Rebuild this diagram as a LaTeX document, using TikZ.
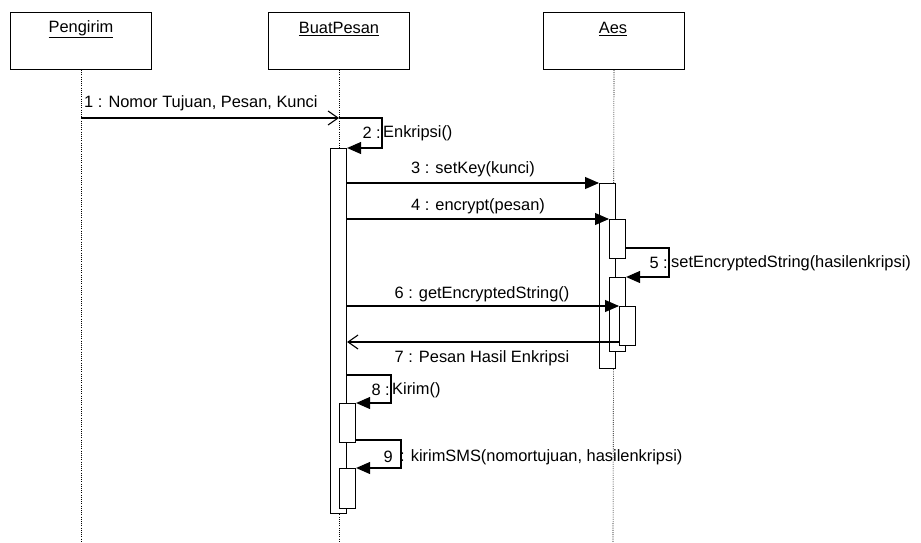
\documentclass[tikz,border=0pt]{standalone}
\usepackage{fontspec}
\setmainfont{Liberation Sans}
\usetikzlibrary{arrows.meta}
\begin{document}
\begin{tikzpicture}[x=1pt,y=-1pt,
  every node/.style={font=\fontsize{16.4}{19}\selectfont},
  head/.style={draw,line width=1pt,minimum width=141pt,minimum height=57pt,inner sep=0pt,anchor=north west},
  life/.style={line width=0.6pt,dash pattern=on 1pt off 1.2pt},
  act/.style={draw,fill=white,line width=1.1pt,minimum width=16pt,inner sep=0pt,anchor=north west},
  msg/.style={line width=1.1pt,-{Triangle[length=14pt,width=12pt]}},
  reply/.style={line width=1.1pt,-{Straight Barb[length=10pt,width=14pt,line width=1.1pt]}},
  lbl/.style={inner sep=0pt}]
\useasboundingbox (0,0) rectangle (921,543);
% participants
\node[head] (pg) at (10,12) {};
\node[head] (bp) at (268,12) {};
\node[head] (ae) at (543,12) {};
\node[lbl] at (81,29) {\underline{Pengirim}};
\node[lbl] at (339,29) {\underline{BuatPesan}};
\node[lbl] at (613,29) {\underline{Aes}};
% lifelines
\coordinate (pgend) at (81,543);
\coordinate (bpend) at (339,543);
\coordinate (aeend) at (613,543);
\draw[life] (pg.south) -- (pgend);
\draw[life] (bp.south) -- (bpend);
\draw[life] (ae.south) -- (aeend);
% activations
\node[act,minimum height=365pt] (bact) at (330,148) {};
\node[act,minimum height=39pt] (k1) at (339,403) {};
\node[act,minimum height=40pt] (k2) at (339,468) {};
\node[act,minimum height=185pt] (a1) at (599,183) {};
\node[act,minimum height=39pt] (a2) at (609,219) {};
\node[act,minimum height=74pt] (a3) at (609,277) {};
\node[act,minimum height=39pt] (a4) at (619,306) {};
% 1
\coordinate (m1s) at (81,118);
\coordinate (m1e) at (339,118);
\draw[reply] (m1s) -- (m1e);
\node[lbl,anchor=south west] at (84,111) {1 : Nomor Tujuan, Pesan, Kunci};
% 2
\draw[msg] (m1e) -- (382,118) -- (382,148) -- (bact.north east);
\node[lbl,anchor=east] at (381,133) {2 :};
\node[lbl,anchor=west] at (383,133) {Enkripsi()};
% 3
\draw[msg] (bact.east |- a1.north) -- (a1.north west);
\node[lbl] at (473,169) {3 : setKey(kunci)};
% 4
\draw[msg] (bact.east |- a2.north) -- (a2.north west);
\node[lbl] at (478,206) {4 : encrypt(pesan)};
% 5
\draw[msg] (a2.east |- 0,248) -- (669,248) -- (669,277) -- (a3.north east);
\node[lbl,anchor=east] at (668,263) {5 :};
\node[lbl,anchor=west] at (671,263) {setEncryptedString(hasilenkripsi)};
% 6
\draw[msg] (bact.east |- a4.north) -- (a4.north west);
\node[lbl] at (482,294) {6 : getEncryptedString()};
% 7
\draw[reply] (a4.west |- 0,342) -- (bact.east |- 0,342);
\node[lbl] at (482,358) {7 : Pesan Hasil Enkripsi};
% 8
\draw[msg] (bact.east |- 0,375) -- (391,375) -- (391,403) -- (k1.north east);
\node[lbl,anchor=east] at (390,390) {8 :};
\node[lbl,anchor=west] at (392,390) {Kirim()};
% 9
\draw[msg] (k1.east |- 0,440) -- (401,440) -- (401,468) -- (k2.north east);
\node[lbl,anchor=east] at (393,457) {9};
\node[lbl,anchor=west] at (400,457) {: kirimSMS(nomortujuan, hasilenkripsi)};
\end{tikzpicture}
\end{document}
